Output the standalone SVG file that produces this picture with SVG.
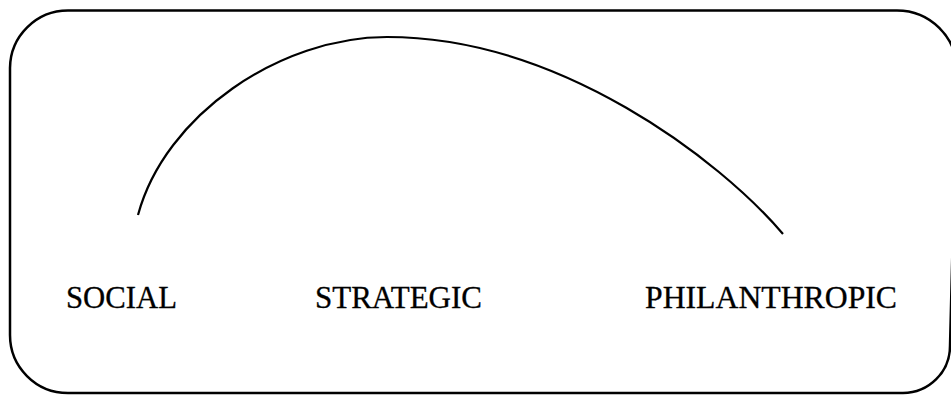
<svg xmlns="http://www.w3.org/2000/svg" width="951" height="395" viewBox="0 0 951 395">
<style>
.frame{fill:none;stroke:#000;stroke-width:2.5}
.arc{fill:none;stroke:#000;stroke-width:2.2}
.lbl{font-family:"Liberation Serif","Times New Roman",serif;font-size:31px;fill:#000;stroke:#000;stroke-width:0.3}
</style>
<rect width="951" height="395" fill="#fff"/>
<g id="frame">
<path class="frame" d="M68,10.5 L897,10.5 A60,60 0 0 1 957,70 L950,346 A47,47 0 0 1 903,393 L68,393 A58,58 0 0 1 10,335 L10,68 A58,58 0 0 1 68,10.5 Z"/>
</g>
<g id="connectors">
<path class="arc" d="M138,215 C165,115 280,37 387,37 C560,37 720,160 783,234"/>
</g>
<g id="social"><text class="lbl" x="66" y="308" textLength="111" lengthAdjust="spacingAndGlyphs">SOCIAL</text></g>
<g id="strategic"><text class="lbl" x="315" y="308" textLength="167" lengthAdjust="spacingAndGlyphs">STRATEGIC</text></g>
<g id="philanthropic"><text class="lbl" x="645" y="308" textLength="252" lengthAdjust="spacingAndGlyphs">PHILANTHROPIC</text></g>
</svg>
